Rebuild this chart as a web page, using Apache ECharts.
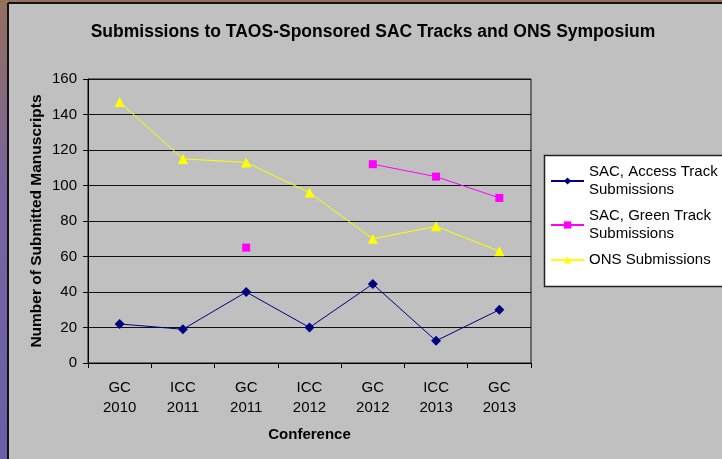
<!DOCTYPE html>
<html>
<head>
<meta charset="utf-8">
<script src="https://cdn.jsdelivr.net/npm/echarts@6/dist/echarts.min.js"></script>
<style>
  html, body { margin: 0; padding: 0; }
  #main {
    width: 722px; height: 459px;
    background: linear-gradient(to bottom, #94705c 0%, #7a64a0 40%, #6a5ea8 100%);
  }
</style>
</head>
<body>
<div id="main"></div>
<script>
// data
var conferences = ['GC\n2010', 'ICC\n2011', 'GC\n2011', 'ICC\n2012', 'GC\n2012', 'ICC\n2013', 'GC\n2013'];
var accessTrack = [22, 19, 40, 20, 44.5, 12.5, 30];
var greenTrack = [null, null, 65, null, 112, 105, 93];
var onsSubmissions = [147, 115, 113, 96, 70, 77, 63];

var legendLabels = {
  'SAC, Access Track Submissions': 'SAC, Access Track\nSubmissions',
  'SAC, Green Track Submissions': 'SAC, Green Track\nSubmissions',
  'ONS Submissions': 'ONS Submissions'
};

var font = 'Arial, "Liberation Sans", sans-serif';

var myChart = echarts.init(document.getElementById('main'));

myChart.setOption({
  backgroundColor: 'transparent',
  textStyle: { fontFamily: font },
  title: {
    text: 'Submissions to TAOS-Sponsored SAC Tracks and ONS Symposium',
    left: 368,
    top: 18,
    textAlign: 'center',
    textStyle: { fontSize: 17.5, fontWeight: 'bold', color: '#000', fontFamily: font }
  },
  graphic: [
    { type: 'rect', z: -10, shape: { x: 8, y: 3, width: 714, height: 456 }, style: { fill: '#c0c0c0' } },
    { type: 'line', z: -9, shape: { x1: 8, y1: 3, x2: 8, y2: 459 }, style: { stroke: '#111', lineWidth: 2 } },
    { type: 'line', z: -9, shape: { x1: 8, y1: 3, x2: 722, y2: 3 }, style: { stroke: '#111', lineWidth: 2 } },
    { type: 'rect', z: 3, shape: { x: 544.5, y: 155.5, width: 200, height: 131 }, style: { fill: '#fff', stroke: '#222', lineWidth: 1.5 } }
  ],
  legend: {
    orient: 'vertical',
    left: 545,
    top: 158,
    itemWidth: 33,
    itemHeight: 9,
    itemGap: 8,
    formatter: function (name) { return legendLabels[name]; },
    textStyle: { fontSize: 15, lineHeight: 18, color: '#000', fontFamily: font },
    data: ['SAC, Access Track Submissions', 'SAC, Green Track Submissions', 'ONS Submissions']
  },
  grid: {
    left: 88, right: 191, top: 79, bottom: 96,
    show: true, borderColor: '#111', borderWidth: 1, backgroundColor: 'transparent'
  },
  xAxis: {
    type: 'category',
    data: conferences,
    boundaryGap: true,
    name: 'Conference',
    nameLocation: 'middle',
    nameGap: 64,
    nameMoveOverlap: false,
    nameTextStyle: { fontSize: 15, fontWeight: 'bold', color: '#000', fontFamily: font },
    axisLine: { lineStyle: { color: '#000', width: 1 } },
    axisTick: { show: true, length: 5, lineStyle: { color: '#000' } },
    axisLabel: { fontSize: 15, lineHeight: 20, margin: 15, color: '#000', fontFamily: font }
  },
  yAxis: {
    type: 'value',
    min: 0, max: 160, interval: 20,
    name: 'Number of Submitted Manuscripts',
    nameLocation: 'middle',
    nameGap: 43,
    nameMoveOverlap: false,
    nameTextStyle: { fontSize: 15.5, fontWeight: 'bold', color: '#000', fontFamily: font },
    axisLine: { show: true, lineStyle: { color: '#000', width: 1 } },
    axisTick: { show: true, length: 5, lineStyle: { color: '#000' } },
    axisLabel: { fontSize: 15, margin: 11, color: '#000', fontFamily: font },
    splitLine: { show: true, lineStyle: { color: '#111', width: 1 } }
  },
  series: [
    {
      name: 'SAC, Access Track Submissions',
      type: 'line',
      data: accessTrack,
      symbol: 'diamond',
      symbolSize: 10,
      color: '#000080',
      lineStyle: { width: 1, color: '#000080' },
      itemStyle: { color: '#000080' }
    },
    {
      name: 'SAC, Green Track Submissions',
      type: 'line',
      data: greenTrack,
      connectNulls: false,
      symbol: 'rect',
      symbolSize: 8,
      color: '#ff00ff',
      lineStyle: { width: 1, color: '#ff00ff' },
      itemStyle: { color: '#ff00ff' }
    },
    {
      name: 'ONS Submissions',
      type: 'line',
      data: onsSubmissions,
      symbol: 'triangle',
      symbolSize: 10,
      color: '#ffff00',
      lineStyle: { width: 1, color: '#ffff00' },
      itemStyle: { color: '#ffff00' }
    }
  ]
});
</script>
</body>
</html>
